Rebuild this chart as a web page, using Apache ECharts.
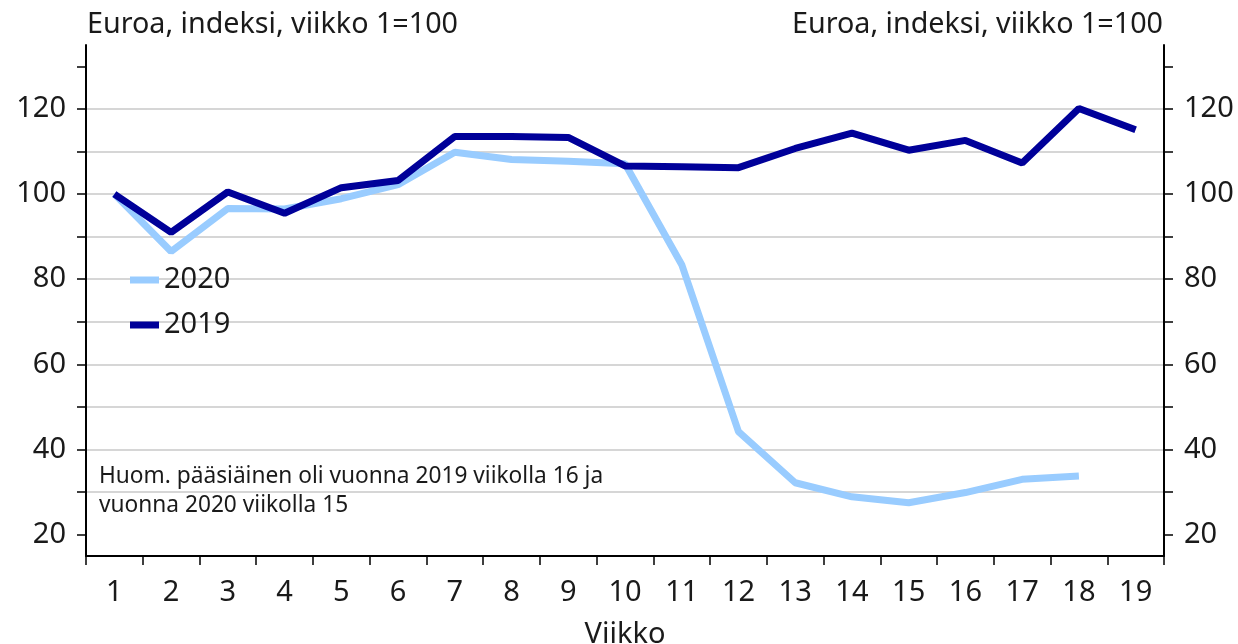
<!DOCTYPE html>
<html>
<head>
<meta charset="utf-8">
<script src="https://cdn.jsdelivr.net/npm/echarts@6/dist/echarts.min.js"></script>
<style>
  html, body { margin: 0; padding: 0; background: #fff; }
  #main { width: 1238px; height: 644px; }
</style>
</head>
<body>
<div id="main"></div>
<script>
// viikot
var weeks = ['1','2','3','4','5','6','7','8','9','10','11','12','13','14','15','16','17','18','19'];
// 2020 (viikko 1 = 100)
var sales2020 = [100, 86.5, 96.6, 96.5, 98.9, 102.2, 109.8, 108.1, 107.7, 107.1, 83.4, 44.2, 32.2, 28.9, 27.5, 29.9, 33.0, 33.8];
// 2019 (viikko 1 = 100)
var sales2019 = [100, 91.0, 100.5, 95.5, 101.5, 103.2, 113.5, 113.5, 113.3, 106.6, 106.4, 106.2, 110.7, 114.3, 110.3, 112.6, 107.3, 120.1, 115.1];
// asteikko
var gridValues = [20, 30, 40, 50, 60, 70, 80, 90, 100, 110, 120, 130];
var labelValues = [20, 40, 60, 80, 100, 120];

var FONT = 'Noto Sans';
var TXT = '#1a1a1a';

function valueAxis(pos) {
  return {
    type: 'value',
    position: pos,
    min: 15,
    max: 135,
    axisLine: { show: true, lineStyle: { color: '#000', width: 2 } },
    axisTick: { show: true, length: 9, customValues: gridValues, lineStyle: { color: '#000', width: 1.5 } },
    axisLabel: {
      customValues: labelValues,
      margin: 20,
      color: TXT,
      fontFamily: FONT,
      fontSize: 29
    },
    splitLine: {
      show: pos === 'left',
      showMinLine: false,
      showMaxLine: false,
      lineStyle: { color: '#c8c8c8', width: 1.5 }
    }
  };
}

var myChart = echarts.init(document.getElementById('main'));
var option = {
  animation: false,
  backgroundColor: '#fff',
  grid: { left: 86, right: 74, top: 45, bottom: 88, containLabel: false, outerBoundsMode: 'none' },
  legend: {
    orient: 'vertical',
    left: 130,
    top: 265,
    padding: 0,
    icon: 'rect',
    itemWidth: 29,
    itemHeight: 7,
    itemGap: 15,
    textStyle: { color: TXT, fontFamily: FONT, fontSize: 29, lineHeight: 30 },
    data: ['2020', '2019']
  },
  xAxis: {
    type: 'category',
    data: weeks,
    boundaryGap: true,
    name: 'Viikko',
    nameLocation: 'middle',
    nameGap: 64,
    nameTextStyle: { color: TXT, fontFamily: FONT, fontSize: 29 },
    axisLine: { lineStyle: { color: '#000', width: 2 } },
    axisTick: { show: true, length: 9, interval: 0, alignWithLabel: false, lineStyle: { color: '#000', width: 1.5 } },
    axisLabel: { interval: 0, margin: 22, color: TXT, fontFamily: FONT, fontSize: 29 },
    splitLine: { show: false }
  },
  yAxis: [valueAxis('left'), valueAxis('right')],
  graphic: [
    {
      type: 'text', left: 87, top: 10,
      style: { text: 'Euroa, indeksi, viikko 1=100', fill: TXT, font: '28.7px "Noto Sans"' }
    },
    {
      type: 'text', right: 75, top: 10,
      style: { text: 'Euroa, indeksi, viikko 1=100', fill: TXT, font: '28.7px "Noto Sans"' }
    },
    {
      type: 'text', left: 99, top: 462,
      style: {
        text: 'Huom. pääsiäinen oli vuonna 2019 viikolla 16 ja\nvuonna 2020 viikolla 15',
        fill: TXT, font: '22.7px "Noto Sans"', lineHeight: 29
      }
    }
  ],
  series: [
    {
      name: '2020',
      type: 'line',
      yAxisIndex: 0,
      data: sales2020,
      showSymbol: false,
      symbol: 'none',
      color: '#99ccff',
      lineStyle: { color: '#99ccff', width: 7 },
      z: 3
    },
    {
      name: '2019',
      type: 'line',
      yAxisIndex: 0,
      data: sales2019,
      showSymbol: false,
      symbol: 'none',
      color: '#000099',
      lineStyle: { color: '#000099', width: 7 },
      z: 4
    }
  ]
};
myChart.setOption(option);
</script>
</body>
</html>
